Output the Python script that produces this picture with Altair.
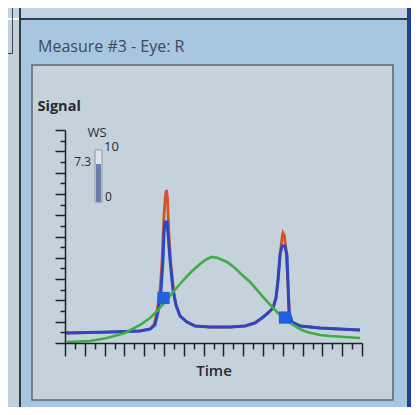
import altair as alt
import pandas as pd

# ---------------- data ----------------
time_blue = [0, 4.55, 7.58, 8.59, 9.09, 9.39, 9.70, 9.90, 10.0, 10.10, 10.30, 10.40, 10.61,
             10.91, 11.21, 11.62, 12.32, 13.13, 14.65, 16.67, 18.18, 19.19, 19.90, 20.51,
             21.01, 21.31, 21.52, 21.72, 21.92, 22.22, 22.42, 22.53, 22.63, 22.93, 23.74,
             25.76, 27.78, 29.80]
sig_blue = [0.94, 1.03, 1.13, 1.31, 1.69, 2.91, 4.98, 7.79, 10.33, 11.36, 11.36, 10.33, 7.79,
            4.98, 3.57, 2.54, 1.97, 1.60, 1.50, 1.50, 1.60, 1.88, 2.35, 2.82,
            3.29, 4.23, 5.92, 8.26, 9.11, 9.11, 8.26, 5.45, 2.91, 1.97, 1.60,
            1.41, 1.31, 1.22]

time_red = [0, 4.55, 7.58, 8.59, 9.0, 9.29, 9.6, 9.8, 10.0, 10.15, 10.25, 10.35, 10.5, 10.7,
            11.0, 11.21, 11.62, 12.32, 13.13, 14.65, 16.67, 18.18, 19.19, 19.9, 20.51,
            21.01, 21.31, 21.52, 21.72, 21.92, 22.02, 22.17, 22.32, 22.53, 22.68, 22.93,
            23.74, 25.76, 27.78, 29.8]
sig_red = [0.94, 1.03, 1.13, 1.31, 1.75, 2.91, 4.98, 7.6, 12.0, 13.9, 14.37, 13.6, 10.1, 7.3,
           4.7, 3.57, 2.54, 1.97, 1.6, 1.5, 1.5, 1.6, 1.88, 2.35, 2.82,
           3.29, 4.23, 5.92, 8.26, 9.86, 10.33, 10.05, 8.73, 5.45, 2.63, 1.97,
           1.6, 1.41, 1.31, 1.22]

time_green = [0.2, 2.53, 4.24, 6.06, 7.58, 8.59, 9.29, 10.10, 10.91, 11.62, 12.63, 13.64,
              14.34, 14.85, 15.45, 16.36, 17.17, 17.68, 18.69, 19.39, 20.20, 21.01, 21.72,
              22.73, 23.74, 24.44, 25.76, 26.77, 28.28, 29.80]
sig_green = [0.09, 0.19, 0.47, 0.94, 1.69, 2.35, 3.0, 3.85, 4.79, 5.54, 6.57, 7.42,
             7.89, 8.08, 7.98, 7.61, 7.04, 6.57, 5.73, 4.98, 4.13, 3.29, 2.63,
             1.88, 1.31, 1.03, 0.75, 0.66, 0.56, 0.47]

marker_time = [9.95, 22.22]
marker_sig = [4.23, 2.39]

time_ticks = list(range(0, 31))
signal_ticks = list(range(0, 21))

ws_value = 7.3
ws_min = 0
ws_max = 10

title_text = "Measure #3 - Eye: R"

# ---------------- tables ----------------
df_blue = pd.DataFrame({"t": time_blue, "s": sig_blue})
df_red = pd.DataFrame({"t": time_red, "s": sig_red})
df_green = pd.DataFrame({"t": time_green, "s": sig_green})
df_mark = pd.DataFrame({"t": marker_time, "s": marker_sig})
df_ws = pd.DataFrame({"lo": [ws_min], "hi": [ws_max], "val": [ws_value],
                      "lo_l": [str(ws_min)], "hi_l": [str(ws_max)], "val_l": [str(ws_value)]})

FONT = "Open Sans"
W, H = 297, 213
AXC = "#1e2226"
TXT = "#262b31"

xscale = alt.Scale(domain=[0, 30], nice=False, zero=False)
yscale = alt.Scale(domain=[0, 20], nice=False)

x_enc = alt.X("t:Q", scale=xscale, axis=alt.Axis(
    values=time_ticks, tickCount=100, labels=False, grid=False, domainColor=AXC,
    domainWidth=1.5, tickColor=AXC, tickWidth=1.5, zindex=1,
    tickSize={"condition": {"test": "datum.value % 2 === 0", "value": 13}, "value": 6},
    title="Time", titleFont=FONT, titleFontSize=15, titleFontWeight=600, titleColor=TXT,
    titleBaseline="middle", titleY=27))
y_enc = alt.Y("s:Q", scale=yscale, axis=alt.Axis(
    values=signal_ticks, tickCount=100, labels=False, grid=False, domainColor=AXC,
    domainWidth=1.5, tickColor=AXC, tickWidth=1.5, zindex=1,
    tickSize={"condition": {"test": "datum.value % 2 === 0", "value": 10}, "value": 5},
    title="Signal", titleFont=FONT, titleFontSize=14.5, titleFontWeight="bold", titleColor=TXT,
    titleAngle=0, titleAlign="left", titleBaseline="middle", titleX=-28, titleY=-24))

red = alt.Chart(df_red).mark_line(color="#d4532a", strokeWidth=2.8).encode(x=x_enc, y=y_enc)
blue = alt.Chart(df_blue).mark_line(color="#2c46c4", strokeWidth=3).encode(x="t:Q", y="s:Q")
green = alt.Chart(df_green).mark_line(color="#3cae45", strokeWidth=2.6).encode(x="t:Q", y="s:Q")
marks = alt.Chart(df_mark).mark_square(color="#1f5fe0", size=150, opacity=1, filled=True).encode(
    x="t:Q", y="s:Q")

main = alt.layer(red, blue, green, marks)

# ---------------- WS gauge ----------------
wsscale = alt.Scale(domain=[ws_min, ws_max], range=[72, 20], nice=False, zero=False)
g_bg = alt.Chart(df_ws).mark_rect(fill="#dfe4ea", stroke="#8e99a4", strokeWidth=1).encode(
    x=alt.value(30), x2=alt.value(37),
    y=alt.Y("hi:Q", scale=wsscale, axis=None), y2="lo:Q")
g_fill = alt.Chart(df_ws).mark_rect(fill="#6a7ea6").encode(
    x=alt.value(31), x2=alt.value(36), y="val:Q", y2="lo:Q")
g_hi = alt.Chart(df_ws).mark_text(font=FONT, fontSize=13, color=TXT, align="left",
                                  baseline="middle", dy=-3).encode(
    x=alt.value(39), y="hi:Q", text="hi_l:N")
g_lo = alt.Chart(df_ws).mark_text(font=FONT, fontSize=12, color=TXT, align="left",
                                  baseline="middle", dy=-5).encode(
    x=alt.value(40), y="lo:Q", text="lo_l:N")
g_val = alt.Chart(df_ws).mark_text(font=FONT, fontSize=12, color=TXT, align="right",
                                   baseline="middle", dy=-2).encode(
    x=alt.value(26), y="val:Q", text="val_l:N")
g_ws = alt.Chart(df_ws).mark_text(text="WS", font=FONT, fontSize=13, color=TXT,
                                  align="center", baseline="middle").encode(
    x=alt.value(32), y=alt.value(3))
gauge = alt.layer(g_bg, g_fill, g_hi, g_lo, g_val, g_ws)

# ---------------- window chrome ----------------
def box(x1, x2, y1, y2, **kw):
    return alt.Chart(df_ws).mark_rect(**kw).encode(
        x=alt.value(x1), x2=alt.value(x2), y=alt.value(y1), y2=alt.value(y2))

chrome = [
    box(-57, 346, -122, -112, fill="#c2d4e3"),
    box(-57, -46, -110, 277, fill="#c3d0da"),
    box(-53, -52, -122, -77, fill="#3a4756"),
    box(-57, -52, -77, -76, fill="#3a4756"),
    box(-46, 346, -112, -110, fill="#2e3d4c"),
    box(-46, -44, -122, 277, fill="#2e3d4c"),
    box(-44, 342, -110, 277, fill="#a9c6e1"),
    box(342, 346, -122, 277, fill="#1f3f93"),
    box(-33, 328, -65, 270, fill="#c6d2db", stroke="#5b6771", strokeWidth=1.5),
    alt.Chart(df_ws).mark_text(text=title_text, font=FONT, fontSize=16, color="#3b4a5a",
                               align="left", baseline="middle").encode(
        x=alt.value(-27), y=alt.value(-83)),
]

chart = alt.layer(*chrome, main, gauge).resolve_scale(y="independent").properties(
    width=W, height=H,
    padding={"left": 57, "top": 122, "right": 49, "bottom": 64},
    autosize=alt.AutoSizeParams(type="none"),
).configure_view(strokeWidth=0).configure(background="white")

chart.save("out.html", embed_options={"renderer": "svg", "actions": False})
